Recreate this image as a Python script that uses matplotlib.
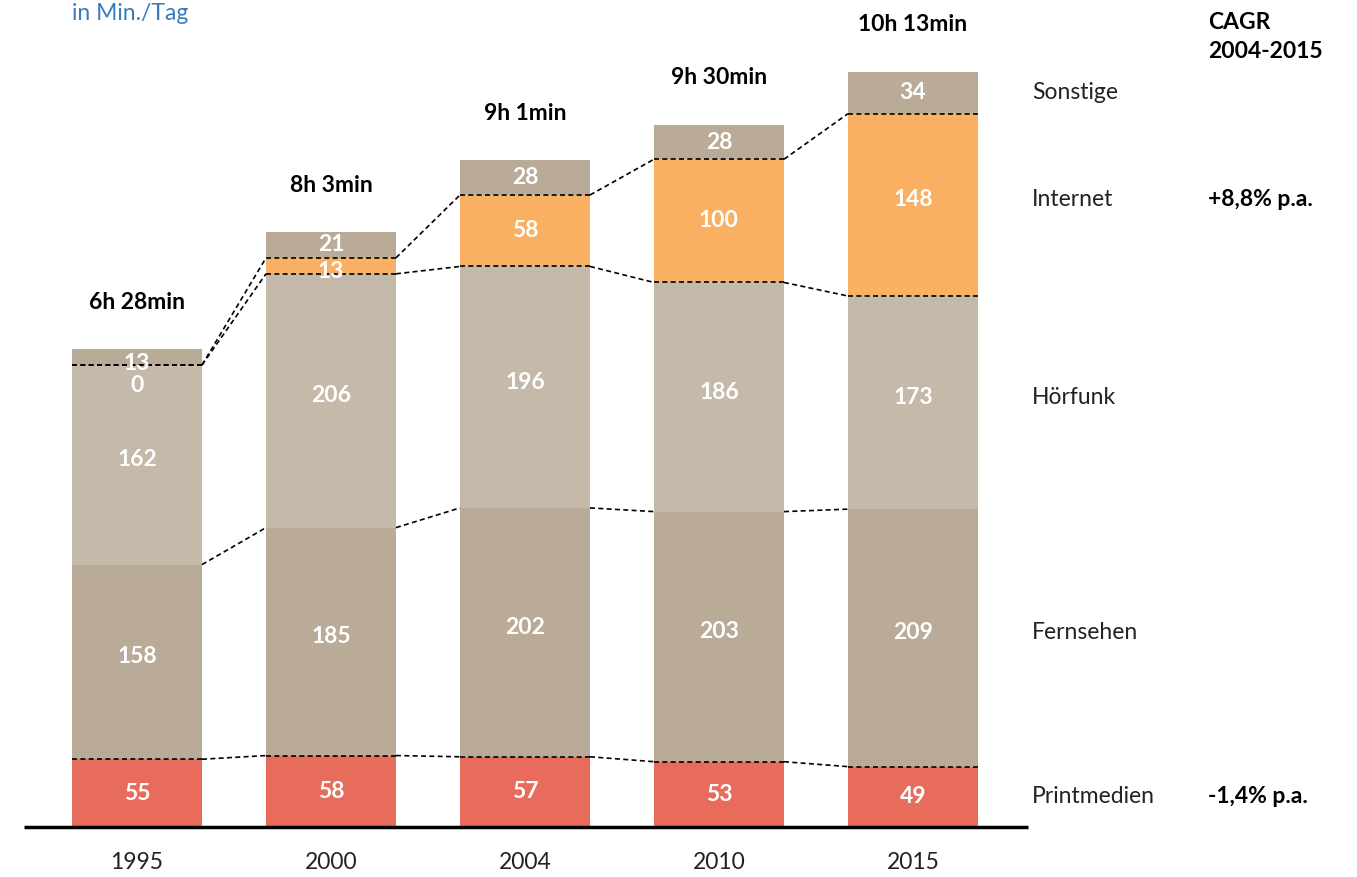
import matplotlib.pyplot as plt
import numpy as np

plt.rcParams['font.family'] = ['Lato', 'DejaVu Sans']

years = ['1995', '2000', '2004', '2010', '2015']
totals = ['6h 28min', '8h 3min', '9h 1min', '9h 30min', '10h 13min']
categories = ['Printmedien', 'Fernsehen', 'Hörfunk', 'Internet', 'Sonstige']
printmedien = [55, 58, 57, 53, 49]
fernsehen = [158, 185, 202, 203, 209]
hoerfunk = [162, 206, 196, 186, 173]
internet = [0, 13, 58, 100, 148]
sonstige = [13, 21, 28, 28, 34]
cagr = {'Internet': '+8,8% p.a.', 'Printmedien': '-1,4% p.a.'}

colors = ['#e76c5c', '#b9ab97', '#c5b9a9', '#f9b063', '#b9ab97']
series = [printmedien, fernsehen, hoerfunk, internet, sonstige]

fs = 16.5

fig = plt.figure(figsize=(13.57, 8.77), dpi=100)
ax = fig.add_axes([0, 0, 1, 1])
# pixel mapping: bar centers 137 + 194*i, baseline at 50px from bottom, 1.232 px per minute
ax.set_xlim(-137 / 194, (1357 - 137) / 194)
ax.set_ylim(-50 / 1.232, (877 - 50) / 1.232)
ax.axis('off')


def label_y(lo, v):
    # labels sit a little above centre in big segments, a little below in thin ones
    yc = lo + v / 2
    if v == 0:
        return yc - 17
    if v < 15:
        return yc - 5
    if v > 100:
        return yc + 4
    return yc


x = np.arange(len(years))
w = 130 / 194
bottom = np.zeros(len(years))
tops = []
for vals, col in zip(series, colors):
    vals = np.array(vals)
    ax.bar(x, vals, w, bottom=bottom, color=col, linewidth=0, zorder=1)
    for i in range(len(x)):
        ax.text(x[i], label_y(bottom[i], vals[i]), str(vals[i]), color='white', fontsize=fs,
                fontweight='bold', ha='center', va='center', zorder=4)
    bottom = bottom + vals
    tops.append(bottom.copy())

dash = dict(color='black', linewidth=1.2, linestyle=(0, (3, 2)), zorder=3)
# dashed lines across bars (Printmedien, Hörfunk, Internet tops)
for k in [0, 2, 3]:
    for i in range(len(x)):
        ax.plot([x[i] - w / 2, x[i] + w / 2], [tops[k][i], tops[k][i]], **dash)
# connectors between bars
for k in [0, 1, 2, 3]:
    for i in range(len(x) - 1):
        ax.plot([x[i] + w / 2, x[i + 1] - w / 2], [tops[k][i], tops[k][i + 1]], **dash)

# totals
for i in range(len(x)):
    ax.text(x[i], bottom[i] + 38, totals[i], fontsize=fs, fontweight='bold',
            ha='center', va='center', color='black')

# baseline
ax.plot([(24 - 137) / 194, (1028 - 137) / 194], [0, 0], color='black', linewidth=2.5, zorder=5,
        solid_capstyle='butt')

for i in range(len(x)):
    ax.text(x[i], -29, years[i], fontsize=fs, ha='center', va='center', color='#222222')

# right labels
xl = (1032 - 137) / 194
xc = (1208 - 137) / 194
prev = 0
for name, t in zip(categories, tops):
    yc = label_y(prev, t[-1] - prev)
    prev = t[-1]
    ax.text(xl, yc, name, fontsize=fs, ha='left', va='center', color='#222222')
    if name in cagr:
        ax.text(xc, yc, cagr[name], fontsize=fs, fontweight='bold', ha='left', va='center')

fig.text(1208 / 1357, 1 - 12 / 877, 'CAGR\n2004-2015', fontsize=fs, fontweight='bold',
         ha='left', va='top', linespacing=1.45)
fig.text(72 / 1357, 1 - 3 / 877, 'in Min./Tag', fontsize=fs, color='#3a7bbf',
         ha='left', va='top')

fig.savefig('out.png', dpi=100)
